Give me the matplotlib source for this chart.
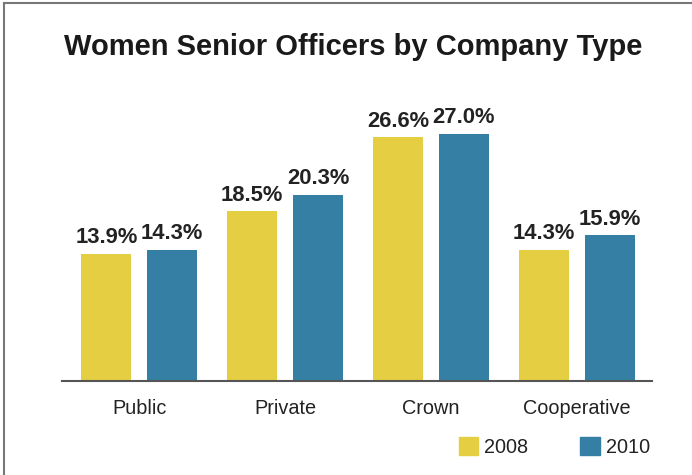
import matplotlib.pyplot as plt
import matplotlib.patches as mpatches
from matplotlib.lines import Line2D
import numpy as np

plt.rcParams['font.family'] = ['Liberation Sans', 'DejaVu Sans']

categories = ["Public", "Private", "Crown", "Cooperative"]
years = ["2008", "2010"]
vals_2008 = [13.9, 18.5, 26.6, 14.3]
vals_2010 = [14.3, 20.3, 27.0, 15.9]

yellow = "#E5CE42"
blue = "#347FA3"

fig = plt.figure(figsize=(6.92, 4.75), dpi=100)
ax = fig.add_axes([62/692, 94/475, 590/692, 275/475])

x = np.arange(len(categories))
w = 0.342
off = 0.226
b1 = ax.bar(x - off, vals_2008, w, color=yellow)
b2 = ax.bar(x + off, vals_2010, w, color=blue)

for bars, vals in ((b1, vals_2008), (b2, vals_2010)):
    for r, v in zip(bars, vals):
        ax.annotate(f"{v:.1f}%", (r.get_x() + r.get_width()/2, v),
                    xytext=(0, 4), textcoords="offset points",
                    ha="center", va="bottom", fontsize=15.8,
                    fontweight="bold", color="#222222")

ax.set_xlim(-0.53, 3.515)
ax.set_ylim(0, 30)
ax.set_xticks(x)
ax.set_xticklabels(categories, fontsize=14.3, color="#222222")
ax.tick_params(axis="x", length=0, pad=13)
ax.set_yticks([])
for s in ["top", "right", "left"]:
    ax.spines[s].set_visible(False)
ax.spines["bottom"].set_color("#555555")
ax.spines["bottom"].set_linewidth(1.5)

fig.text(353/692, 1 - 47/475, "Women Senior Officers by Company Type",
         ha="center", va="center", fontsize=21, fontweight="bold",
         color="#1a1a1a")

handles = [mpatches.Patch(color=yellow), mpatches.Patch(color=blue)]
fig.legend(handles, years, loc="center right", bbox_to_anchor=(668/692, 1 - 447/475),
           ncol=2, frameon=False, fontsize=14.3, handlelength=1.0, handleheight=1.0,
           handletextpad=0.3, columnspacing=2.6, labelcolor="#222222")

# frame lines on the left and top
fig.add_artist(Line2D([4/692, 4/692], [0, 1 - 3/475], color="#777777", lw=1.5))
fig.add_artist(Line2D([4/692, 1], [1 - 3/475, 1 - 3/475], color="#777777", lw=1.5))

fig.savefig("out.png", dpi=100)
